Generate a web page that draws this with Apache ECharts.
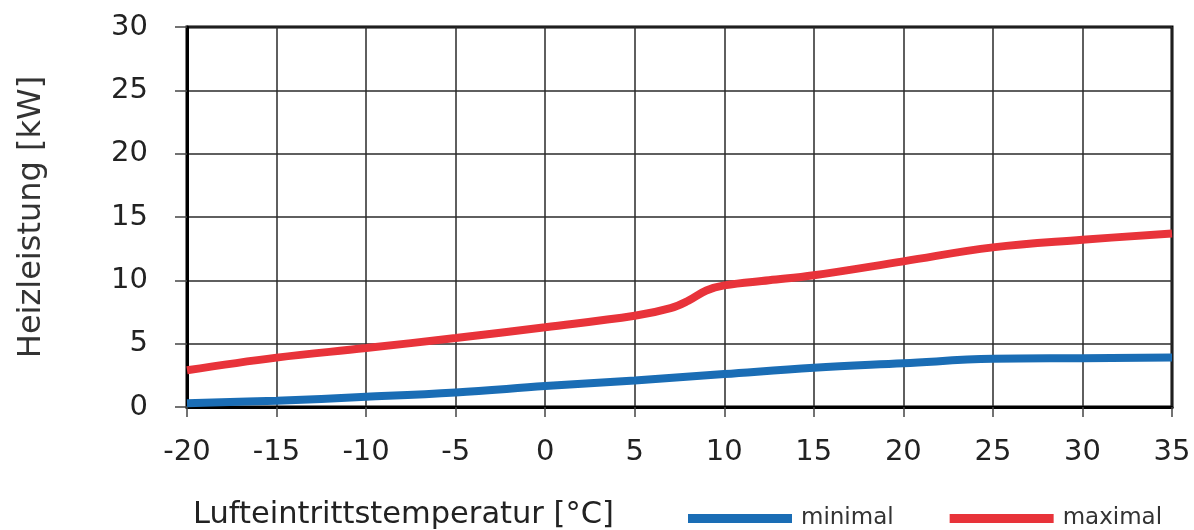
<!DOCTYPE html>
<html><head><meta charset="utf-8">
<script src="https://cdn.jsdelivr.net/npm/echarts@6/dist/echarts.min.js"></script>
<style>html,body{margin:0;padding:0;background:#fff}#c{width:1194px;height:530px}</style>
</head><body><div id="c"></div>
<script>
const xTicks = [-20,-15,-10,-5,0,5,10,15,20,25,30,35];
const yTicks = [0,5,10,15,20,25,30];
const minTemps = [-20,-15,-10,-5,0,5,10,15,20,25,30,35];
const minVals  = [0.3,0.5,0.8,1.15,1.65,2.1,2.6,3.1,3.45,3.8,3.85,3.9];
const maxTemps = [-20,-15,-10,-5,0,5,7,8,9,10,12.5,15,20,25,30,35];
const maxVals  = [2.9,3.9,4.65,5.45,6.3,7.2,7.8,8.4,9.2,9.6,10.0,10.4,11.5,12.6,13.2,13.7];

const pairs = (xs, ys) => xs.map((x,i)=>[x, ys[i]]);
const chart = echarts.init(document.getElementById('c'), null, {renderer:'canvas'});
chart.setOption({
  animation:false,
  backgroundColor:'#fff',
  title:{text:'Lufteintrittstemperatur [°C]', left:188, top:495,
    textStyle:{fontFamily:'DejaVu Sans', fontSize:30.5, fontWeight:'normal', color:'#222'}},
  legend:{left:683, top:502, itemWidth:104, itemHeight:9, itemGap:56, icon:'rect',
    textStyle:{fontFamily:'DejaVu Sans', fontSize:23, color:'#333', padding:[0,0,0,4]},
    data:['minimal','maximal']},
  grid:{left:187, right:22, top:27, bottom:123, show:true, borderColor:'#000', borderWidth:3},
  xAxis:{type:'value', min:-20, max:35, interval:5,
    axisLine:{show:true, onZero:false, lineStyle:{color:'#000', width:3}},
    axisTick:{show:true, length:10, lineStyle:{color:'#444', width:1.5}},
    axisLabel:{margin:31, fontFamily:'DejaVu Sans', fontSize:29, color:'#222',
      formatter:v=>xTicks.includes(v)?String(v):''},
    splitLine:{show:true, lineStyle:{color:'#2a2a2a', width:1.5}}},
  yAxis:{type:'value', min:0, max:30, interval:5,
    name:'Heizleistung [kW]', nameLocation:'middle', nameGap:139, nameRotate:90,
    nameTextStyle:{fontFamily:'DejaVu Sans', fontSize:32, color:'#333'},
    axisLine:{show:true, onZero:false, lineStyle:{color:'#000', width:3}},
    axisTick:{show:true, length:12, lineStyle:{color:'#444', width:1.5}},
    axisLabel:{margin:39, fontFamily:'DejaVu Sans', fontSize:29, color:'#222',
      formatter:v=>yTicks.includes(v)?String(v):''},
    splitLine:{show:true, lineStyle:{color:'#2a2a2a', width:1.5}}},
  series:[
    {name:'minimal', type:'line', smooth:0.4, showSymbol:false, z:3,
      lineStyle:{color:'#1a6db5', width:8}, itemStyle:{color:'#1a6db5'},
      data:pairs(minTemps, minVals)},
    {name:'maximal', type:'line', smooth:0.4, showSymbol:false, z:3,
      lineStyle:{color:'#e8333a', width:8}, itemStyle:{color:'#e8333a'},
      data:pairs(maxTemps, maxVals)}
  ]
});
</script></body></html>
